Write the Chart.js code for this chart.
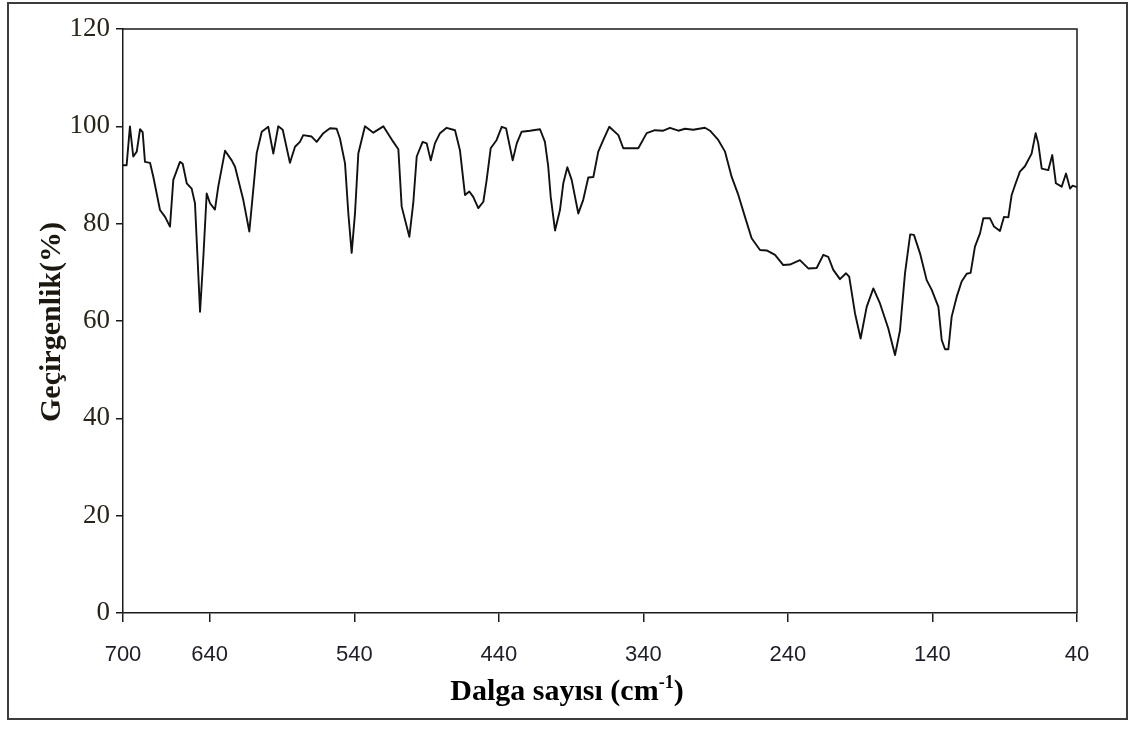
<!DOCTYPE html>
<html lang="tr">
<head>
<meta charset="utf-8">
<title>Geçirgenlik spektrumu</title>
<script src="https://cdn.jsdelivr.net/npm/chart.js@4.4.1/dist/chart.umd.min.js"></script>
<style>
    html, body { margin: 0; padding: 0; background: #fff; }
    canvas { display: block; }
</style>
</head>
<body>
<canvas id="spectrumChart" width="1134" height="729"></canvas>
<script>
// Dalga sayısı (cm-1), azalan sırada
const wavenumbers = [
    700, 697.5, 695.2, 692.9, 690.5, 688.2, 686.4, 684.8, 681.3, 679.0,
    674.4, 670.9, 667.5, 665.2, 660.6, 658.7, 655.9, 652.5, 650.2, 646.7,
    644.4, 642.1, 639.8, 636.4, 634.1, 629.4, 624.8, 622.5, 616.8, 612.6,
    609.9, 607.5, 604.0, 599.5, 596.0, 592.6, 589.5, 584.5, 581.0, 577.6,
    575.3, 569.5, 566.0, 561.4, 556.8, 552.2, 549.9, 546.4, 544.1, 541.8,
    539.5, 537.2, 532.6, 526.8, 519.9, 513.0, 509.5, 507.2, 501.9, 499.2,
    496.8, 492.7, 489.9, 487.1, 484.2, 480.7, 476.1, 470.3, 466.9, 463.4,
    460.4, 457.7, 454.2, 450.7, 448.4, 445.6, 441.5, 438.0, 435.0, 430.4,
    427.6, 424.2, 418.4, 411.5, 408.1, 405.8, 404.1, 401.1, 397.7, 395.4,
    392.6, 389.6, 385.0, 381.6, 378.1, 374.6, 371.2, 367.7, 363.6, 357.3,
    353.9, 343.5, 337.7, 332.0, 326.2, 321.6, 315.8, 311.2, 305.5, 297.4,
    293.9, 288.2, 283.5, 278.9, 274.3, 269.7, 265.1, 259.3, 254.7, 248.9,
    243.2, 238.6, 231.7, 225.9, 220.1, 215.5, 212.1, 208.6, 204.0, 199.8,
    197.6, 193.6, 189.7, 185.5, 180.9, 176.3, 170.6, 165.9, 162.5, 159.0,
    155.4, 152.8, 148.6, 144.0, 140.5, 135.9, 133.6, 131.3, 129.0, 126.7,
    123.2, 119.8, 116.3, 113.6, 110.6, 107.1, 104.8, 100.2, 97.4, 93.3,
    90.5, 87.5, 85.2, 82.9, 79.5, 76.0, 71.4, 68.6, 66.8, 64.4,
    59.9, 57.1, 54.6, 50.6, 47.6, 44.8, 43.0, 40.0
];

// Geçirgenlik (%)
const transmittance = [
    92.0, 92.0, 100.0, 93.8, 94.8, 99.4, 98.8, 92.7, 92.5, 89.6,
    82.8, 81.4, 79.4, 89.0, 92.7, 92.3, 88.3, 87.2, 84.2, 61.9,
    73.2, 86.2, 84.2, 82.9, 87.6, 95.0, 93.0, 91.7, 84.9, 78.4,
    86.9, 94.5, 98.9, 99.9, 94.4, 100.0, 99.3, 92.5, 95.8, 96.8,
    98.2, 97.9, 96.8, 98.6, 99.6, 99.5, 97.5, 92.4, 82.1, 74.0,
    82.1, 94.4, 100.0, 98.7, 100.0, 96.8, 95.3, 83.5, 77.3, 84.2,
    93.8, 96.8, 96.5, 93.0, 96.5, 98.6, 99.7, 99.2, 95.1, 85.9,
    86.6, 85.5, 83.2, 84.5, 89.0, 95.5, 97.2, 99.9, 99.6, 93.0,
    96.5, 98.9, 99.1, 99.4, 96.8, 91.7, 85.5, 78.6, 82.8, 88.3,
    91.6, 89.0, 82.1, 84.9, 89.5, 89.6, 94.8, 97.2, 99.9, 98.2,
    95.5, 95.5, 98.6, 99.2, 99.1, 99.7, 99.1, 99.5, 99.3, 99.7,
    99.1, 97.2, 94.8, 89.6, 85.9, 81.4, 77.0, 74.6, 74.5, 73.6,
    71.5, 71.6, 72.5, 70.8, 70.9, 73.6, 73.2, 70.5, 68.6, 69.8,
    69.1, 61.6, 56.4, 62.9, 66.7, 63.6, 58.5, 53.0, 58.0, 69.8,
    77.8, 77.7, 73.9, 68.4, 66.4, 62.9, 56.1, 54.2, 54.2, 60.9,
    65.0, 68.1, 69.7, 69.9, 75.3, 78.0, 81.1, 81.1, 79.4, 78.5,
    81.4, 81.3, 85.9, 87.9, 90.7, 91.8, 94.4, 98.6, 96.5, 91.3,
    91.0, 94.1, 88.3, 87.6, 90.3, 87.2, 87.8, 87.5
];

const xTickValues = [700, 640, 540, 440, 340, 240, 140, 40];
const yTickValues = [0, 20, 40, 60, 80, 100, 120];

const yTitle = 'Geçirgenlik(%)';
const xTitle = 'Dalga sayısı (cm';
const xTitleSup = '-1';
const xTitleEnd = ')';

const axisColor = '#1a1a1a';

// Dış çerçeve, grafik kutusunun üst/sağ kenarı ve eksen başlıkları
const framePlugin = {
    id: 'frame',
    beforeDraw: function (chart) {
        const ctx = chart.ctx;
        ctx.save();
        ctx.fillStyle = '#ffffff';
        ctx.fillRect(0, 0, chart.width, chart.height);
        ctx.strokeStyle = '#3c3c3c';
        ctx.lineWidth = 2;
        ctx.strokeRect(8, 3, 1119, 716);
        ctx.restore();
    },
    afterDraw: function (chart) {
        const ctx = chart.ctx;
        const a = chart.chartArea;
        ctx.save();
        ctx.strokeStyle = axisColor;
        ctx.lineWidth = 1.5;
        ctx.beginPath();
        ctx.moveTo(a.left, a.top);
        ctx.lineTo(a.right, a.top);
        ctx.lineTo(a.right, a.bottom);
        ctx.stroke();

        // y ekseni başlığı
        ctx.fillStyle = '#1c1810';
        ctx.font = 'bold 30px "Liberation Serif"';
        ctx.textAlign = 'center';
        ctx.textBaseline = 'alphabetic';
        ctx.save();
        ctx.translate(60, 322);
        ctx.rotate(-Math.PI / 2);
        ctx.fillText(yTitle, 0, 0);
        ctx.restore();

        // x ekseni başlığı (üst simgeli)
        ctx.fillStyle = '#000000';
        ctx.textAlign = 'left';
        const mainFont = 'bold 30px "Liberation Serif"';
        const supFont = 'bold 18px "Liberation Serif"';
        ctx.font = mainFont;
        const w1 = ctx.measureText(xTitle).width;
        const w3 = ctx.measureText(xTitleEnd).width;
        ctx.font = supFont;
        const w2 = ctx.measureText(xTitleSup).width;
        let x = 567 - (w1 + w2 + w3) / 2;
        const baseY = 700;
        ctx.font = mainFont;
        ctx.fillText(xTitle, x, baseY);
        x += w1;
        ctx.font = supFont;
        ctx.fillText(xTitleSup, x, baseY - 12);
        x += w2;
        ctx.font = mainFont;
        ctx.fillText(xTitleEnd, x, baseY);
        ctx.restore();
    }
};

const points = wavenumbers.map((w, i) => ({ x: w, y: transmittance[i] }));

new Chart(document.getElementById('spectrumChart').getContext('2d'), {
    type: 'line',
    data: {
        datasets: [{
            data: points,
            borderColor: '#111111',
            borderWidth: 1.9,
            borderJoinStyle: 'round',
            pointRadius: 0,
            tension: 0,
            fill: false
        }]
    },
    options: {
        responsive: false,
        animation: false,
        layout: {
            padding: { left: 0, right: 57, top: 29, bottom: 0 }
        },
        plugins: {
            legend: { display: false },
            tooltip: { enabled: false }
        },
        scales: {
            x: {
                type: 'linear',
                min: 40,
                max: 700,
                reverse: true,
                afterBuildTicks: function (axis) {
                    axis.ticks = xTickValues.map(v => ({ value: v }));
                },
                afterFit: function (axis) {
                    axis.height = 116;
                },
                grid: {
                    display: true,
                    drawOnChartArea: false,
                    drawTicks: true,
                    tickLength: 9,
                    color: axisColor,
                    lineWidth: 1.5
                },
                border: { display: true, color: axisColor, width: 1.5 },
                ticks: {
                    autoSkip: false,
                    maxRotation: 0,
                    padding: 20,
                    color: '#1e1e2a',
                    font: { family: '"Liberation Sans"', size: 22 }
                }
            },
            y: {
                min: 0,
                max: 120,
                afterBuildTicks: function (axis) {
                    axis.ticks = yTickValues.map(v => ({ value: v }));
                },
                afterFit: function (axis) {
                    axis.width = 123;
                },
                grid: {
                    display: true,
                    drawOnChartArea: false,
                    drawTicks: true,
                    tickLength: 7,
                    color: axisColor,
                    lineWidth: 1.5
                },
                border: { display: true, color: axisColor, width: 1.5 },
                ticks: {
                    padding: 6,
                    color: '#2a2418',
                    font: { family: '"Liberation Serif"', size: 27 }
                }
            }
        }
    },
    plugins: [framePlugin]
});
</script>
</body>
</html>
